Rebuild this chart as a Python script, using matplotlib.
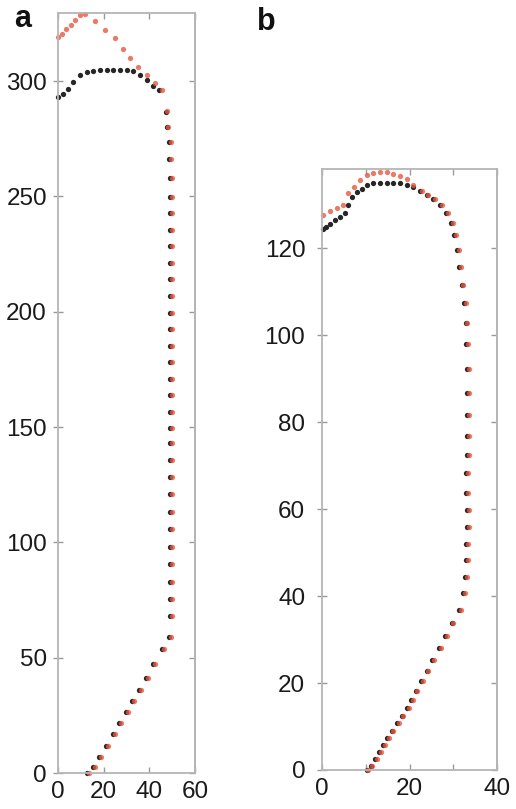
import matplotlib
matplotlib.use("Agg")
import matplotlib.pyplot as plt
import numpy as np

plt.rcParams['font.family'] = ['Liberation Sans', 'DejaVu Sans']

# ---------------- Panel a data ----------------
# shared lower + vertical part (both series nearly coincide)
a_shared_x = [12.6, 15.5, 18.1, 21.0, 24.2, 26.9, 29.6, 32.6, 35.5, 38.4, 41.8, 45.7, 48.8,
              49.0, 49.2, 49.2, 49.2, 49.2, 49.2, 49.2, 49.2, 49.2, 49.2, 49.2, 49.2, 49.2,
              49.2, 49.2, 49.2, 49.2, 49.2, 49.2, 49.2, 49.2, 49.2, 49.2, 49.2, 49.1, 49.0,
              48.9, 48.7, 48.4]
a_shared_y = [0.0, 2.7, 6.8, 11.8, 16.9, 21.8, 26.3, 31.3, 36.0, 41.3, 47.1, 53.6, 58.8,
              68.2, 75.4, 82.9, 90.4, 98.0, 105.6, 113.2, 120.8, 128.4, 135.7, 142.9, 149.4,
              156.6, 163.8, 170.9, 178.1, 185.3, 192.5, 199.6, 206.8, 214.0, 221.2, 228.3,
              235.5, 242.7, 249.8, 257.8, 266.4, 273.6]
# black top part
a_black_top_x = [47.8, 47.3, 44.4, 41.8, 38.8, 35.9, 33.0, 30.1, 27.2, 24.2, 21.3, 18.4, 15.5,
                 12.6, 9.6, 6.7, 4.5, 2.3, 0.1]
a_black_top_y = [280.1, 286.4, 296.0, 298.0, 300.4, 302.5, 304.5, 305.0, 305.0, 305.0, 305.0,
                 304.8, 304.5, 304.0, 302.5, 299.7, 296.7, 294.5, 293.0]
# red top part
a_red_top_x = [48.2, 47.6, 45.4, 42.5, 38.8, 35.2, 31.5, 28.3, 25.0, 20.6, 16.2, 11.8, 9.8,
               7.6, 5.6, 3.6, 1.8, 0.1]
a_red_top_y = [280.1, 287.0, 296.0, 299.0, 302.5, 306.0, 310.0, 314.0, 318.5, 322.0, 326.0,
               329.0, 328.5, 326.5, 324.5, 322.5, 320.5, 319.0]

# ---------------- Panel b data ----------------
b_shared_x = [10.2, 11.1, 12.1, 13.1, 14.0, 14.9, 15.9, 17.1, 18.2, 19.4, 20.3, 21.4, 22.6,
              23.9, 25.1, 26.7, 28.1, 29.6, 31.3, 32.3, 32.7, 33.0, 33.0, 33.1, 33.1, 33.0,
              33.0, 33.1, 33.1, 33.1, 33.1, 33.1, 33.0, 32.8, 32.5, 31.9, 31.4, 30.8, 30.2,
              29.5, 28.3, 27.0, 25.4, 23.9, 22.4]
b_shared_y = [0.0, 0.9, 2.5, 4.2, 5.7, 7.3, 9.0, 10.7, 12.4, 14.2, 16.1, 18.2, 20.5, 22.8,
              25.4, 28.0, 30.8, 33.7, 36.8, 40.6, 44.4, 48.2, 51.9, 55.8, 59.8, 63.7, 68.2,
              72.4, 76.8, 81.6, 86.7, 92.1, 97.9, 102.7, 107.3, 111.5, 115.7, 119.5, 123.0,
              125.8, 128.1, 129.9, 131.2, 132.2, 133.2]
b_black_top_x = [20.9, 19.4, 17.8, 16.3, 14.8, 13.3, 11.7, 10.2, 9.1, 7.9, 6.8, 6.0, 5.3, 4.1,
                 3.0, 1.8, 0.9, 0.2]
b_black_top_y = [134.0, 134.5, 134.9, 134.9, 134.9, 134.9, 134.9, 134.5, 133.7, 132.9, 131.8,
                 129.9, 128.0, 127.2, 126.4, 125.5, 124.9, 124.5]
b_red_top_x = [20.9, 19.4, 17.8, 16.3, 14.8, 13.3, 11.7, 10.2, 8.7, 7.2, 6.0, 4.9, 3.4, 1.8, 0.3]
b_red_top_y = [134.5, 135.8, 136.5, 137.1, 137.5, 137.5, 137.3, 136.8, 135.6, 134.1, 132.6,
               129.9, 129.2, 128.5, 127.6]

BLACK = '#262626'
RED = '#e8583f'
SPINE = '#b5b5b5'
TICKC = '#9a9a9a'
FS = 17.5

fig = plt.figure(figsize=(5.16, 8.09), dpi=100)
ax_a = fig.add_axes([58/516, 36/809, 137/516, 760/809])
ax_b = fig.add_axes([322/516, 39/809, 175/516, 601/809])


def style(ax, ypad):
    for s in ax.spines.values():
        s.set_color(SPINE)
        s.set_linewidth(1.3)
    ax.tick_params(axis='x', direction='in', length=4, width=1, color=TICKC,
                   labelsize=FS, labelcolor='#1a1a1a', top=True, pad=6)
    ax.tick_params(axis='y', direction='inout', length=7, width=1, color=TICKC,
                   labelsize=FS, labelcolor='#1a1a1a', right=False, pad=ypad)
    sec = ax.secondary_yaxis('right')
    sec.set_yticks(ax.get_yticks())
    sec.tick_params(direction='in', length=4, width=1, color=TICKC, labelright=False)
    sec.spines['right'].set_color(SPINE)
    sec.spines['right'].set_linewidth(1.3)


def draw(ax, sx, sy, bx, by, rx, ry, dx):
    kw = dict(ls='none', marker='o', ms=3.8, mew=0, clip_on=False)
    ax.plot(list(sx) + list(bx), list(sy) + list(by), color=BLACK, **kw)
    ax.plot([v + dx for v in list(sx)] + list(rx), list(sy) + list(ry), color=RED,
            alpha=0.8, **kw)


draw(ax_a, a_shared_x, a_shared_y, a_black_top_x, a_black_top_y,
     a_red_top_x, a_red_top_y, 0.9)
ax_a.set_xlim(0, 60)
ax_a.set_ylim(0, 329.5)
ax_a.set_xticks([0, 20, 40, 60])
ax_a.set_yticks([0, 50, 100, 150, 200, 250, 300])
style(ax_a, 4.5)

draw(ax_b, b_shared_x, b_shared_y, b_black_top_x, b_black_top_y,
     b_red_top_x, b_red_top_y, 0.4)
ax_b.set_xlim(0, 40)
ax_b.set_ylim(0, 138.2)
ax_b.set_xticks([0, 10, 20, 30, 40])
ax_b.set_xticklabels(['0', '', '20', '', '40'])
ax_b.set_yticks([0, 20, 40, 60, 80, 100, 120])
style(ax_b, 8.5)

fig.text(14/516, 1 - 27/809, 'a', fontsize=22, fontweight='bold', color='#111')
fig.text(257/516, 1 - 30/809, 'b', fontsize=22, fontweight='bold', color='#111')

fig.savefig('out.png', dpi=100, facecolor='white')
